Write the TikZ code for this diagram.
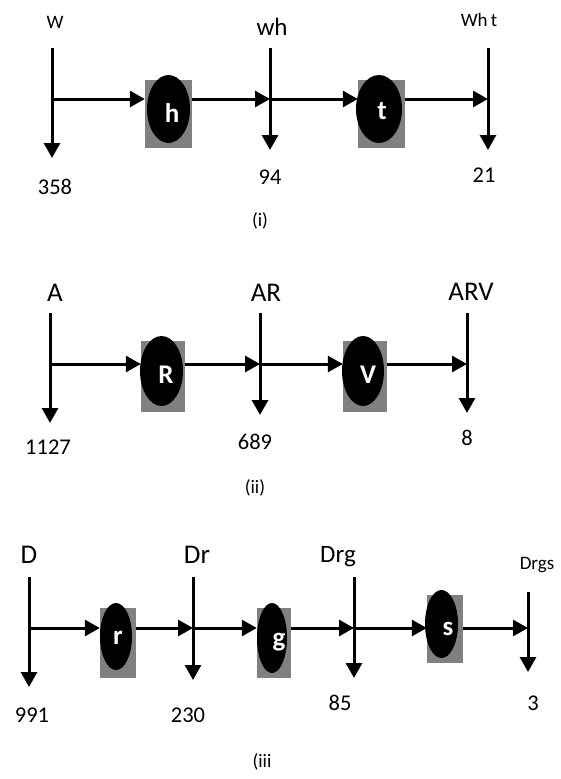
\documentclass[tikz,border=0pt]{standalone}
\usepackage{fontspec}
\setmainfont{Carlito}
\usetikzlibrary{arrows.meta,shapes.geometric}
\definecolor{shadegrey}{RGB}{128,128,128}
\begin{document}
\begin{tikzpicture}[x=1pt,y=-1pt,
 flow/.style={line width=3pt,-{Triangle[length=15pt,width=16pt]}},
 blob/.style={ellipse,fill=black,inner sep=0pt},
 letter/.style={inner sep=0pt,text=white,font=\fontsize{27}{29}\selectfont\bfseries},
 backbox/.style={rectangle,fill=shadegrey,inner sep=0pt},
 lbl/.style={inner sep=0pt,font=\fontsize{25}{27}\selectfont},
 lblS/.style={inner sep=0pt,font=\fontsize{19}{21}\selectfont},
 lblL/.style={inner sep=0pt,font=\fontsize{27}{29}\selectfont},
 num/.style={inner sep=0pt,font=\fontsize{22.5}{24}\selectfont}]
\useasboundingbox (0,0) rectangle (560,779);

% ---------- (i) ----------
\coordinate (Wt) at (52,48); \coordinate (Wj) at (52,99); \coordinate (Wb) at (52,158);
\coordinate (wht) at (270,48); \coordinate (whj) at (270,99); \coordinate (whb) at (270,150);
\coordinate (Whtt) at (488,48); \coordinate (Whtj) at (488,99); \coordinate (Whtb) at (488,150);
\node[backbox,minimum width=47pt,minimum height=68pt] (hbg) at (168.5,114) {};
\node[blob,minimum width=43pt,minimum height=68pt] (h) at (168.5,109) {};
\node[letter] (hL) at (172,113) {h};
\node[backbox,minimum width=47pt,minimum height=68pt] (tbg) at (381.5,114) {};
\node[blob,minimum width=46pt,minimum height=68pt] (t) at (379,109) {};
\node[letter] (tL) at (382,111) {t};
\draw[flow] (Wt) -- (Wb);
\draw[flow] (wht) -- (whb);
\draw[flow] (Whtt) -- (Whtb);
\draw[flow] (Wj) -- (Wj -| hbg.west);
\draw[flow] (whj -| hbg.east) -- (whj);
\draw[flow] (whj) -- (whj -| tbg.west);
\draw[flow] (Whtj -| tbg.east) -- (Whtj);
\node[lblS] (lW) at (55,22) {W};
\node[lbl] (lwh) at (272,27) {wh};
\node[lblS] (lWht) at (479,20) {Wh\,t};
\node[num] (n358) at (55,187) {358};
\node[num] (n94) at (270,177) {94};
\node[num] (n21) at (484,175) {21};
\node[lblS] (ci) at (260,221) {(i)};

% ---------- (ii) ----------
\coordinate (At) at (50,313); \coordinate (Aj) at (50,364); \coordinate (Ab) at (50,423);
\coordinate (ARt) at (260,313); \coordinate (ARj) at (260,364); \coordinate (ARb) at (260,415);
\coordinate (ARVt) at (467,313); \coordinate (ARVj) at (467,364); \coordinate (ARVb) at (467,413);
\node[backbox,minimum width=44pt,minimum height=71pt] (Rbg) at (163,376.5) {};
\node[blob,minimum width=43pt,minimum height=70pt] (R) at (161.5,371) {};
\node[letter] (RL) at (166,375) {R};
\node[backbox,minimum width=44pt,minimum height=71pt] (Vbg) at (365,376.5) {};
\node[blob,minimum width=42pt,minimum height=70pt] (V) at (363,371) {};
\node[letter] (VL) at (368,375) {V};
\draw[flow] (At) -- (Ab);
\draw[flow] (ARt) -- (ARb);
\draw[flow] (ARVt) -- (ARVb);
\draw[flow] (Aj) -- (Aj -| Rbg.west);
\draw[flow] (ARj -| Rbg.east) -- (ARj);
\draw[flow] (ARj) -- (ARj -| Vbg.west);
\draw[flow] (ARVj -| Vbg.east) -- (ARVj);
\node[lblL] (lA) at (55,293) {A};
\node[lblL] (lAR) at (266,293) {AR};
\node[lblL] (lARV) at (471,292) {ARV};
\node[num] (n1127) at (48,447) {1127};
\node[num] (n689) at (255,442) {689};
\node[num] (n8) at (467,438) {8};
\node[lblS] (cii) at (255,488) {(ii)};

% ---------- (iii) ----------
\coordinate (Dt) at (29,577); \coordinate (Dj) at (29,628); \coordinate (Db) at (29,687);
\coordinate (Drt) at (193,577); \coordinate (Drj) at (193,628); \coordinate (Drb) at (193,680);
\coordinate (Drgt) at (354,577); \coordinate (Drgj) at (354,628); \coordinate (Drgb) at (354,678);
\coordinate (Drgst) at (528,592); \coordinate (Drgsj) at (528,628); \coordinate (Drgsb) at (528,672);
\node[backbox,minimum width=36pt,minimum height=70pt] (rbg) at (118,643) {};
\node[blob,minimum width=32pt,minimum height=67pt] (r) at (116,636.5) {};
\node[letter] (rL) at (118,638) {r};
\node[backbox,minimum width=34pt,minimum height=70pt] (gbg) at (274,643) {};
\node[blob,minimum width=30pt,minimum height=70pt] (g) at (272,638) {};
\node[letter] (gL) at (279,642) {g};
\node[backbox,minimum width=36pt,minimum height=68pt] (sbg) at (445,629) {};
\node[blob,minimum width=33pt,minimum height=68pt] (s) at (441.5,624) {};
\node[letter] (sL) at (448,629) {s};
\draw[flow] (Dt) -- (Db);
\draw[flow] (Drt) -- (Drb);
\draw[flow] (Drgt) -- (Drgb);
\draw[flow] (Drgst) -- (Drgsb);
\draw[flow] (Dj) -- (Dj -| rbg.west);
\draw[flow] (Drj -| rbg.east) -- (Drj);
\draw[flow] (Drj) -- (Drj -| gbg.west);
\draw[flow] (Drgj -| gbg.east) -- (Drgj);
\draw[flow] (Drgj) -- (Drgj -| sbg.west);
\draw[flow] (Drgsj -| sbg.east) -- (Drgsj);
\node[lblL] (lD) at (29,555) {D};
\node[lblL] (lDr) at (197,555) {Dr};
\node[lbl] (lDrg) at (338,557) {Drg};
\node[lblS] (lDrgs) at (537,565) {Drgs};
\node[num] (n991) at (32,715) {991};
\node[num] (n230) at (188,715) {230};
\node[num] (n85) at (340,703) {85};
\node[num] (n3) at (533,703) {3};
\node[lblS] (ciii) at (262,762) {(iii};
\end{tikzpicture}
\end{document}
